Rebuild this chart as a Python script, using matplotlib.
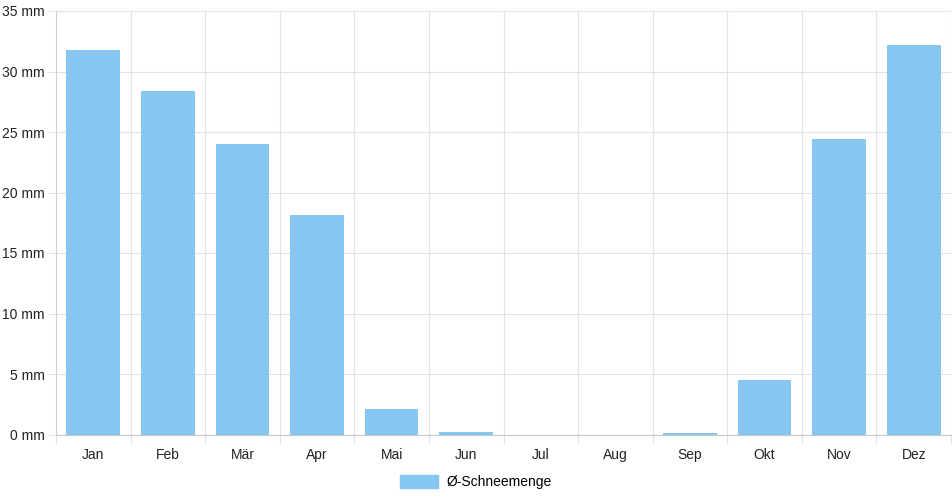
import matplotlib.pyplot as plt
from matplotlib.patches import Patch
import numpy as np

plt.rcParams['font.family'] = ['Liberation Sans', 'DejaVu Sans']

# Data
months = ["Jan", "Feb", "Mär", "Apr", "Mai", "Jun", "Jul", "Aug", "Sep", "Okt", "Nov", "Dez"]
snow_mm = [31.8, 28.4, 24.0, 18.1, 2.1, 0.2, 0.0, 0.0, 0.1, 4.5, 24.4, 32.2]
y_ticks = [0, 5, 10, 15, 20, 25, 30, 35]
series_label = "Ø-Schneemenge"

bar_color = '#88c6f2'
grid_color = '#e3e3e3'

fig = plt.figure(figsize=(9.52, 5.0), dpi=100)
# plot area in pixels: x 56..951, y 11..434.5
ax = fig.add_axes([56 / 952, (500 - 434.5) / 500, 895 / 952, 423.5 / 500])

x = np.arange(len(months))
ax.bar(x, snow_mm, width=0.72, color=bar_color, zorder=3)

ax.set_xlim(-0.5, len(months) - 0.5)
ax.set_ylim(0, 35)

# grid lines between categories (offset grid)
ax.set_xticks(np.arange(-0.5, len(months)), minor=False)
ax.set_xticklabels([])
ax.set_xticks(x, minor=True)
ax.set_xticklabels(months, minor=True)
ax.tick_params(axis='x', which='major', length=6.5, color=grid_color, width=0.8)
ax.tick_params(axis='x', which='minor', length=0, pad=9.5, labelsize=10, labelcolor='#222222')
ax.grid(True, axis='x', which='major', color=grid_color, linewidth=0.8, zorder=0)

ax.set_yticks(y_ticks)
ax.set_yticklabels([f"{v} mm" for v in y_ticks])
ax.tick_params(axis='y', length=5.8, color=grid_color, width=0.8, pad=2.2, labelsize=10, labelcolor='#222222')
ax.grid(True, axis='y', color=grid_color, linewidth=0.8, zorder=0)

for side in ['top', 'right']:
    ax.spines[side].set_visible(False)
ax.spines['left'].set_color('#d0d0d0')
ax.spines['bottom'].set_color('#c8c8c8')

handle = Patch(facecolor=bar_color, edgecolor=bar_color, label=series_label)
fig.legend(handles=[handle], loc='center', bbox_to_anchor=(476 / 952, 1 - 482 / 500),
           frameon=False, fontsize=10, handlelength=2.7, handleheight=1.1, handletextpad=0.6)

fig.savefig('out.png', dpi=100)
